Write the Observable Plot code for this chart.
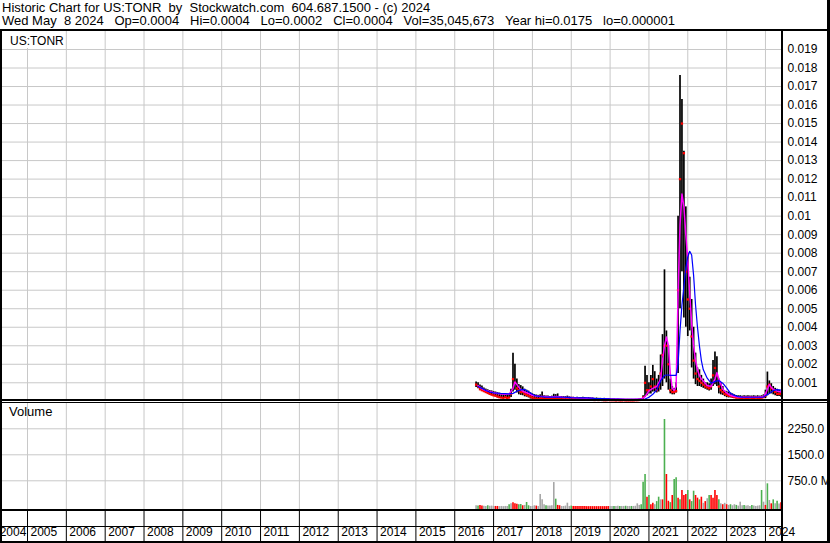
<!DOCTYPE html>
<html>
<head>
<meta charset="utf-8">
<script src="https://cdn.jsdelivr.net/npm/d3@7"></script>
<script src="https://cdn.jsdelivr.net/npm/@observablehq/plot@0.6"></script>
<style>
html, body { margin: 0; padding: 0; background: #fff; }
#chart { position: relative; width: 830px; height: 543px; overflow: hidden; font-family: "Liberation Sans", Arial, sans-serif; color: #000; background: #fff; }
.abs { position: absolute; }
.ln { position: absolute; background: #000; }
#hdr { left: 2px; top: 1px; font-size: 13px; line-height: 13px; white-space: pre; }
#sym { left: 2px; top: 31px; width: 62px; height: 17px; background: #fff; font-size: 12px; line-height: 14px; padding: 3px 0 0 8px; box-sizing: border-box; white-space: pre; }
#vlab { left: 9px; top: 405px; font-size: 13px; line-height: 14px; white-space: pre; }
svg { display: block; overflow: visible; }
</style>
</head>
<body>
<div id="chart">
  <div id="hdr" class="abs"></div>
  <div id="price" class="abs" style="left:0;top:31px"></div>
  <div id="vol" class="abs" style="left:0;top:403px"></div>
  <div id="band" class="abs" style="left:0;top:509px"></div>
  <div id="sym" class="abs"></div>
  <div id="vlab" class="abs"></div>
  <div class="ln" style="left:0;top:29px;width:830px;height:2px"></div>
  <div class="ln" style="left:0;top:29px;width:2px;height:514px"></div>
  <div class="ln" style="left:827px;top:0;width:3px;height:543px"></div>
  <div class="ln" style="left:781px;top:29px;width:2px;height:514px"></div>
  <div class="ln" style="left:0;top:399px;width:830px;height:2px"></div>
  <div class="ln" style="left:0;top:402px;width:830px;height:1px"></div>
  <div class="ln" style="left:0;top:509px;width:783px;height:2px"></div>
  <div class="ln" style="left:0;top:526px;width:783px;height:1px"></div>
  <div class="ln" style="left:0;top:541px;width:830px;height:2px"></div>
</div>
<script>
// ---------- text ----------
const titleLine = "Historic Chart for US:TONR  by  Stockwatch.com  604.687.1500 - (c) 2024";
const infoLine = "Wed May  8 2024   Op=0.0004   Hi=0.0004   Lo=0.0002   Cl=0.0004   Vol=35,045,673   Year hi=0.0175   lo=0.000001";
const symbolLabel = "US:TONR";
const volumeLabel = "Volume";

// ---------- axes ----------
const yearLabels = [2004,2005,2006,2007,2008,2009,2010,2011,2012,2013,2014,2015,2016,2017,2018,2019,2020,2021,2022,2023,2024];
const yearLines = [2005,2006,2007,2008,2009,2010,2011,2012,2013,2014,2015,2016,2017,2018,2019,2020,2021,2022,2023,2024];
const priceTicks = [0.001,0.002,0.003,0.004,0.005,0.006,0.007,0.008,0.009,0.01,0.011,0.012,0.013,0.014,0.015,0.016,0.017,0.018,0.019];
const volumeTicks = [750, 1500, 2250];
const volumeTickLabels = ["750.0 M", "1500.0", "2250.0"];

// ---------- price series (units of $0.0001), one bar every 0.05 year from 2016.55 ----------
const seriesStart = 2016.55;
const seriesStep = 0.05;
const high = [
  10.4,10.0,8.8,8.2,7.2,6.6,6.2,5.8,5.6,5.2,
  5.0,4.6,4.4,4.0,3.8,3.8,3.6,3.6,6.5,26.0,
  20.0,12.0,9.0,8.5,7.8,6.5,6.0,5.5,4.6,4.0,
  3.6,3.4,3.2,3.5,5.0,3.0,2.8,2.8,2.6,2.8,
  3.8,3.6,4.0,2.6,2.6,2.5,2.5,2.8,2.4,2.2,
  2.2,2.0,2.2,2.0,2.0,2.2,2.0,1.8,2.0,1.8,
  1.8,1.6,1.8,1.6,1.6,1.5,1.6,1.4,1.5,1.4,
  1.2,1.2,1.0,1.1,1.0,1.0,1.0,0.9,1.0,0.9,
  1.0,0.9,1.0,1.0,1.2,1.5,3.0,18.9,14.0,10.0,
  14.0,19.4,16.0,12.0,14.0,25.0,36.0,71.0,38.0,30.0,
  12.0,8.0,7.0,10.0,100.0,176.0,163.0,135.0,105.0,80.0,
  67.0,55.0,40.0,26.0,18.0,17.0,14.0,12.0,10.0,10.0,
  9.5,12.0,22.0,26.6,24.0,12.0,10.0,8.0,5.5,5.2,
  5.0,4.5,4.0,3.5,3.1,3.0,3.0,2.8,3.0,2.8,
  3.0,2.8,2.8,3.0,2.8,3.0,2.8,3.0,3.5,6.0,
  15.8,11.0,9.5,8.0,7.0,6.5,6.0,5.0
];
const low = [
  7.5,6.8,6.0,5.5,4.8,4.2,3.8,3.2,3.0,2.6,
  2.4,1.8,1.6,1.5,1.4,1.4,1.3,1.5,2.0,5.0,
  6.0,4.5,3.5,3.2,3.0,2.4,2.2,1.8,1.2,1.0,
  0.9,0.8,0.8,0.8,0.8,0.8,0.8,0.8,0.7,0.8,
  0.8,0.8,0.7,0.7,0.7,0.7,0.6,0.6,0.6,0.5,
  0.5,0.5,0.5,0.4,0.5,0.5,0.4,0.4,0.5,0.4,
  0.4,0.4,0.4,0.3,0.4,0.4,0.3,0.3,0.4,0.3,
  0.3,0.3,0.3,0.3,0.3,0.3,0.3,0.3,0.3,0.3,
  0.3,0.3,0.3,0.3,0.4,0.4,1.0,2.0,3.0,4.0,
  4.0,5.0,5.0,4.5,5.0,6.0,8.0,12.0,10.0,6.0,
  4.0,3.5,3.5,4.5,15.0,50.0,70.0,45.0,40.0,35.0,
  38.0,18.0,12.0,9.0,8.0,8.0,7.5,7.0,6.5,6.0,
  5.5,6.0,8.0,9.0,8.0,4.0,3.5,3.2,2.5,2.0,
  1.8,1.8,1.6,1.5,1.3,1.3,1.3,1.2,1.3,1.3,
  1.2,1.3,1.3,1.2,1.3,1.3,1.2,1.3,1.5,1.5,
  3.0,4.0,4.0,3.5,3.0,2.6,2.6,2.2
];
const close = [
  9.0,8.0,6.5,6.0,5.5,5.0,4.5,4.0,3.6,3.2,
  3.0,2.6,2.2,2.0,1.8,2.2,1.8,2.0,4.0,12.0,
  10.0,7.0,6.0,5.0,5.0,4.0,3.5,3.0,2.5,2.0,
  1.5,1.4,1.2,1.5,1.5,1.2,1.2,1.3,1.2,1.4,
  1.5,1.5,1.2,1.2,1.1,1.1,1.0,1.2,1.0,1.0,
  1.2,1.0,1.1,0.9,1.0,1.1,0.9,0.8,1.0,0.8,
  0.9,0.7,0.8,0.7,0.8,0.7,0.6,0.6,0.7,0.6,
  0.6,0.6,0.5,0.6,0.5,0.5,0.6,0.5,0.5,0.5,
  0.5,0.5,0.6,0.6,0.7,0.8,2.0,10.0,6.0,6.0,
  8.0,12.0,8.0,6.0,8.0,15.0,25.0,30.0,30.0,20.0,
  6.0,5.0,5.0,5.5,60.0,120.0,150.0,134.0,70.0,55.0,
  50.0,35.0,22.0,15.0,12.0,11.0,10.0,9.0,8.0,7.5,
  7.0,8.0,14.0,18.0,14.0,8.0,6.0,5.0,4.0,3.5,
  3.0,3.0,2.5,2.2,2.0,2.0,1.8,1.8,2.0,1.8,
  1.8,2.0,1.8,1.8,2.0,1.8,1.8,2.0,2.2,3.0,
  8.0,9.0,7.0,6.0,5.0,4.0,4.0,4.0
];
// volume in millions, same dates; direction: u = up (green), d = down (red), n = unchanged (grey)
const volume = [
  30,25,40,20,15,10,30,15,20,10,
  10,10,5,10,5,10,5,60,86,115,
  90,70,60,66,30,40,124,30,10,10,
  30,20,10,355,200,60,30,20,20,30,
  700,220,40,30,10,10,20,104,10,20,
  10,5,5,5,5,5,5,5,5,5,
  5,5,5,5,5,5,5,5,5,5,
  10,10,10,15,10,10,10,15,10,10,
  10,10,15,86,40,60,710,932,277,326,
  60,100,60,150,277,200,200,2519,932,160,
  120,326,788,836,250,200,470,326,355,470,
  200,150,450,326,250,200,277,100,150,230,
  326,326,250,470,326,200,86,60,100,60,
  40,60,30,60,40,20,133,30,40,20,
  30,10,40,20,10,20,30,470,133,40,
  663,182,86,200,86,162,80,120
];
const volumeDir = [
  "nuddnnunnn","ddnnnnnund","dduudnuunn","ndnnnnunnn","nuddnnnnnu",
  "dddddddddd","dddddddddn","nunnunnunn","unnnnuuudu","ddnuundudd",
  "uduududddu","duuddudndn","uddddundnd","nunnunnnun","nnunnnnund","undunund"
].join("");

// ---------- moving averages (units of $0.0001) ----------
const maDates = [2016.6,2016.7,2016.8,2016.9,2017.0,2017.1,2017.2,2017.3,2017.4,2017.5,
  2017.55,2017.6,2017.7,2017.8,2017.9,2018.0,2018.1,2018.2,2018.3,2018.4,
  2018.5,2018.6,2018.7,2018.8,2018.9,2019.0,2019.2,2019.4,2019.6,2019.8,
  2020.0,2020.2,2020.4,2020.6,2020.8,2020.9,2021.0,2021.1,2021.2,2021.3,
  2021.35,2021.4,2021.45,2021.5,2021.55,2021.6,2021.65,2021.7,2021.75,2021.8,
  2021.85,2021.9,2021.95,2022.0,2022.05,2022.1,2022.15,2022.2,2022.25,2022.3,
  2022.35,2022.4,2022.5,2022.6,2022.7,2022.75,2022.8,2022.9,2023.0,2023.1,
  2023.2,2023.3,2023.4,2023.6,2023.8,2023.95,2024.0,2024.05,2024.1,2024.15,
  2024.2,2024.3,2024.4];
const maShort = [8.4,6.8,5.8,5.3,4.6,4.2,4.0,3.8,3.9,7.0,
  10.4,9.0,6.2,5.0,4.2,3.2,2.8,2.6,2.6,2.4,
  2.3,2.6,2.4,2.1,2.0,2.0,1.8,1.7,1.5,1.4,
  1.3,1.2,1.1,1.1,1.2,2.5,5.6,7.0,8.0,12.0,
  22.0,30.0,34.7,30.0,15.0,7.0,5.9,8.0,58.0,95.0,
  112.0,105.0,90.0,76.0,58.0,42.0,30.0,22.0,17.0,14.0,
  12.0,11.0,8.5,8.0,12.0,15.5,12.0,6.5,4.5,3.1,
  2.6,2.3,2.2,2.2,2.2,2.5,4.0,6.5,9.0,7.5,
  6.5,5.5,5.0];
const maLong = [8.0,7.0,5.8,5.0,4.6,4.4,4.2,4.1,4.0,4.3,
  4.8,5.5,6.2,6.4,5.2,3.8,2.9,2.6,2.4,2.3,
  2.3,2.3,2.3,2.2,2.1,2.0,1.9,1.8,1.6,1.5,
  1.3,1.2,1.0,1.0,1.0,1.2,2.2,3.8,6.0,11.0,
  12.5,14.0,14.2,14.2,14.0,14.0,14.0,14.0,20.0,38.0,
  52.0,62.0,72.0,78.0,81.0,79.0,68.0,52.0,40.0,30.0,
  22.0,17.0,12.5,9.8,10.6,11.0,11.2,9.8,7.2,4.3,
  3.2,2.5,2.3,2.2,2.2,2.3,3.0,3.6,4.2,5.0,
  5.8,6.3,6.0];

// ---------- build tables ----------
const unit = 1e-4;
const bars = high.map((h, i) => ({
  t: seriesStart + i * seriesStep,
  hi: h * unit, lo: low[i] * unit, cl: close[i] * unit,
  vol: volume[i], dir: volumeDir[i] || "n"
}));
const ma = maDates.map((t, i) => ({t, s: maShort[i] * unit, l: maLong[i] * unit}));
const dirColor = {u: "#4cb050", d: "#ff0000", n: "#a6a6a6"};

// ---------- scales (pixel frame of the original chart) ----------
const xDomain = [2004.3563, 2024.4388];
const priceDomain = [0.0000432, 0.019972];
const volDomain = [-78, 2980];
const grid = "#c8c8c8";
const fmtPrice = d => String(+d.toFixed(3));

document.getElementById("hdr").textContent = titleLine + "\n" + infoLine;
document.getElementById("sym").textContent = symbolLabel;
document.getElementById("vlab").textContent = volumeLabel;

const common = {width: 830, marginLeft: 2, marginRight: 48, marginTop: 0, marginBottom: 0,
  style: {fontFamily: '"Liberation Sans", Arial, sans-serif', fontSize: "12px", background: "transparent", color: "#000", overflow: "visible"}};

const pricePlot = Plot.plot({
  ...common, height: 369,
  x: {domain: xDomain, axis: null, label: null},
  y: {domain: priceDomain, axis: null, label: null},
  marks: [
    Plot.ruleX(yearLines, {stroke: grid}),
    Plot.ruleY(priceTicks, {stroke: grid}),
    Plot.ruleX(bars, {x: "t", y1: "lo", y2: "hi", stroke: "#000", strokeWidth: 1.7}),
    Plot.dot(bars, {x: "t", y: "cl", r: 1.3, symbol: "square", fill: "#ff0000"}),
    Plot.line(ma, {x: "t", y: "s", stroke: "#ff00ff", strokeWidth: 1.5}),
    Plot.line(ma, {x: "t", y: "l", stroke: "#0000ff", strokeWidth: 1.2}),
    Plot.axisY(priceTicks, {anchor: "right", label: null, tickSize: 0, tickPadding: 5, tickFormat: fmtPrice, fontSize: 12, fill: "#000"})
  ]
});
document.getElementById("price").appendChild(pricePlot);

const volPlot = Plot.plot({
  ...common, height: 106,
  x: {domain: xDomain, axis: null, label: null},
  y: {domain: volDomain, axis: null, label: null},
  color: {type: "identity"},
  marks: [
    Plot.ruleX(yearLines, {stroke: grid}),
    Plot.ruleY(volumeTicks, {stroke: grid}),
    Plot.ruleX(bars, {x: "t", y1: volDomain[0], y2: "vol", stroke: d => dirColor[d.dir], strokeWidth: 1.6}),
    Plot.axisY(volumeTicks, {anchor: "right", label: null, tickSize: 0, tickPadding: 5, tickFormat: d => volumeTickLabels[volumeTicks.indexOf(d)], fontSize: 12, fill: "#000"})
  ]
});
document.getElementById("vol").appendChild(volPlot);

const bandPlot = Plot.plot({
  ...common, height: 34,
  x: {domain: xDomain, axis: null, label: null},
  marks: [
    Plot.ruleX(yearLines, {stroke: "#000"}),
    Plot.text(yearLabels, {x: d => Math.max(d, xDomain[0] - 0.15), text: d => String(d), dx: 3, textAnchor: "start", frameAnchor: "bottom", dy: -8, fontSize: 12, fill: "#000"})
  ]
});
document.getElementById("band").appendChild(bandPlot);
</script>
</body>
</html>
